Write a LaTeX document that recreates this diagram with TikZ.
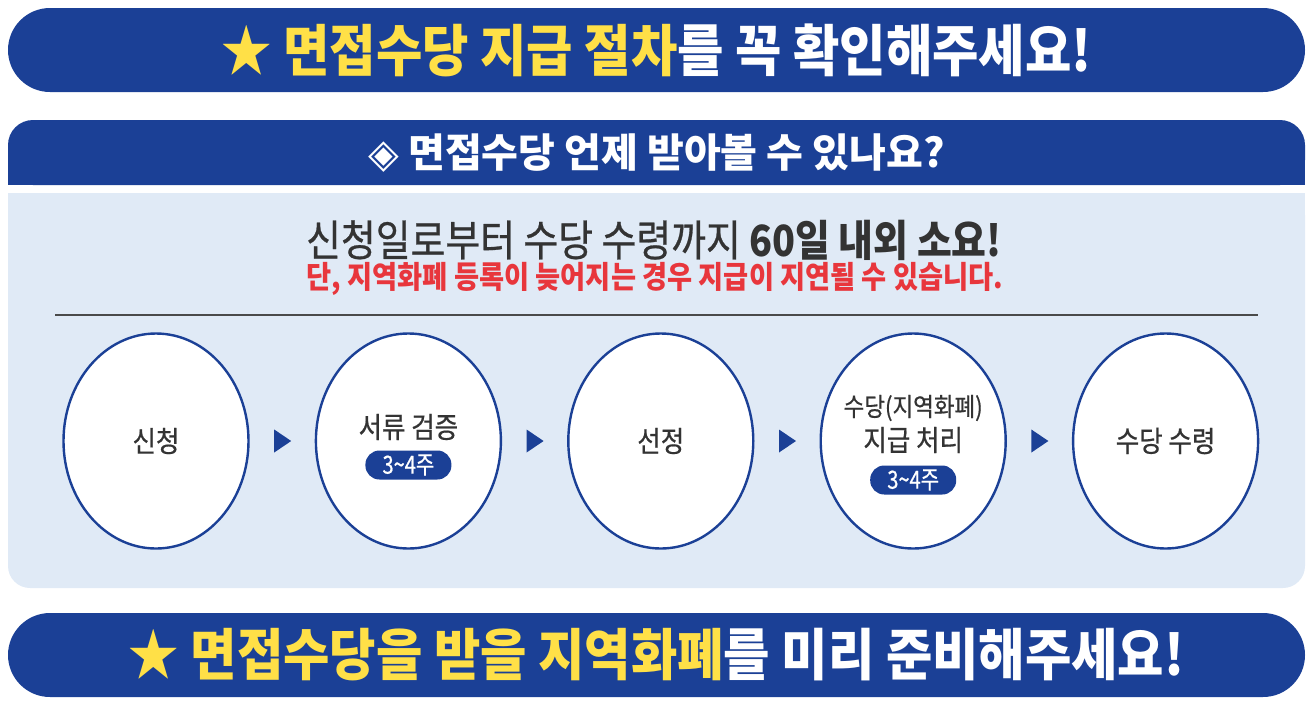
\documentclass[tikz,border=0pt]{standalone}
\usepackage{xcolor}
\usepackage{fontspec}
\usepackage{tikz}
\usetikzlibrary{positioning,calc,shapes.geometric}

\newfontfamily\krfont[FakeStretch=0.88]{Noto Sans CJK KR}
\newfontfamily\krwide[FakeStretch=0.9]{Noto Sans CJK KR}
\newfontfamily\krmed[FakeStretch=0.88,FakeBold=0.6]{Noto Sans CJK KR}
\newfontfamily\krnarrow[FakeStretch=0.8,FakeBold=0.6]{Noto Sans CJK KR}
\newfontfamily\krplain{Noto Sans CJK KR}
\newfontfamily\symfont{DejaVu Sans}
\definecolor{navy}{HTML}{1B4096}
\definecolor{starylw}{HTML}{FFE047}
\definecolor{panelbg}{HTML}{E0EAF6}
\definecolor{inktext}{HTML}{333333}
\definecolor{warnred}{HTML}{E8363C}
\definecolor{rulegray}{HTML}{4A4A4A}

\begin{document}
\begin{tikzpicture}[x=1pt,y=-1pt,
  every node/.style={inner sep=0pt},
  banner/.style={fill=navy,rounded corners=42,minimum width=1297,minimum height=84,
    text=white,font=\krwide\bfseries\fontsize{56}{60}\selectfont},
  stage/.style={ellipse,draw=navy,line width=2.4,fill=white,minimum width=185,minimum height=215},
  lbl/.style={text=inktext,font=\krmed\fontsize{29}{31}\selectfont},
  pill/.style={fill=navy,rounded corners=14,minimum width=86,minimum height=29,
    text=white,font=\krnarrow\fontsize{25}{26}\selectfont}]
  \useasboundingbox (0,0) rectangle (1315,705);
  % banners
  \node[banner] (top) at (656.5,50) {{\color{starylw}★ 면접수당 지급 절차}를 꼭 확인해주세요!};
  \node[banner] (bottom) at (656.5,655) {{\color{starylw}★ 면접수당을 받을 지역화폐}를 미리 준비해주세요!};
  % header and panel
  \fill[navy,rounded corners=25] (8,120) rectangle (1305,185);
  \fill[navy] (8,150) rectangle (1305,185);
  \fill[panelbg,rounded corners=22] (8,193) rectangle (1305,588);
  \fill[panelbg] (8,193) rectangle (1305,250);
  \node[text=white,font=\krplain\bfseries\fontsize{40}{43}\selectfont] (head) at (656.5,153) {{\symfont\bfseries ◈} 면접수당 언제 받아볼 수 있나요?};
  \node[text=inktext,font=\krmed\fontsize{43}{46}\selectfont] (lead) at (654,240) {신청일로부터 수당 수령까지 {\krfont\bfseries 60일 내외 소요!}};
  \node[text=warnred,font=\krfont\bfseries\fontsize{31}{33}\selectfont] (warn) at (655,279) {단, 지역화폐 등록이 늦어지는 경우 지급이 지연될 수 있습니다.};
  \draw[rulegray,line width=2] (55,315) -- (1258,315);
  % stages
  \node[stage] (s1) at (156,441) {};
  \node[stage,right=65 of s1] (s2) {};
  \node[stage,right=65 of s2] (s3) {};
  \node[stage,right=65 of s3] (s4) {};
  \node[stage,right=65 of s4] (s5) {};
  \node[lbl] (t1) at (s1) {신청};
  \node[lbl] (t2) at ([yshift=14]s2.center) {서류 검증};
  \node[pill] (p2) at ([yshift=-24]s2.center) {3\textasciitilde4주};
  \node[lbl] (t3) at (s3) {선정};
  \node[lbl,font=\krmed\fontsize{25.5}{27}\selectfont] (t4a) at ([yshift=33]s4.center) {수당(지역화폐)};
  \node[lbl] (t4b) at ([yshift=1]s4.center) {지급 처리};
  \node[pill] (p4) at ([yshift=-39]s4.center) {3\textasciitilde4주};
  \node[lbl] (t5) at (s5) {수당 수령};
  % arrow heads between stages
  \foreach \a/\b in {s1/s2,s2/s3,s3/s4,s4/s5}{
    \coordinate (m) at ($(\a)!0.5!(\b)$);
    \fill[navy] ([shift={(-8,-11.5)}]m) -- ([shift={(9,0)}]m) -- ([shift={(-8,11.5)}]m) -- cycle;
  }
\end{tikzpicture}
\end{document}
